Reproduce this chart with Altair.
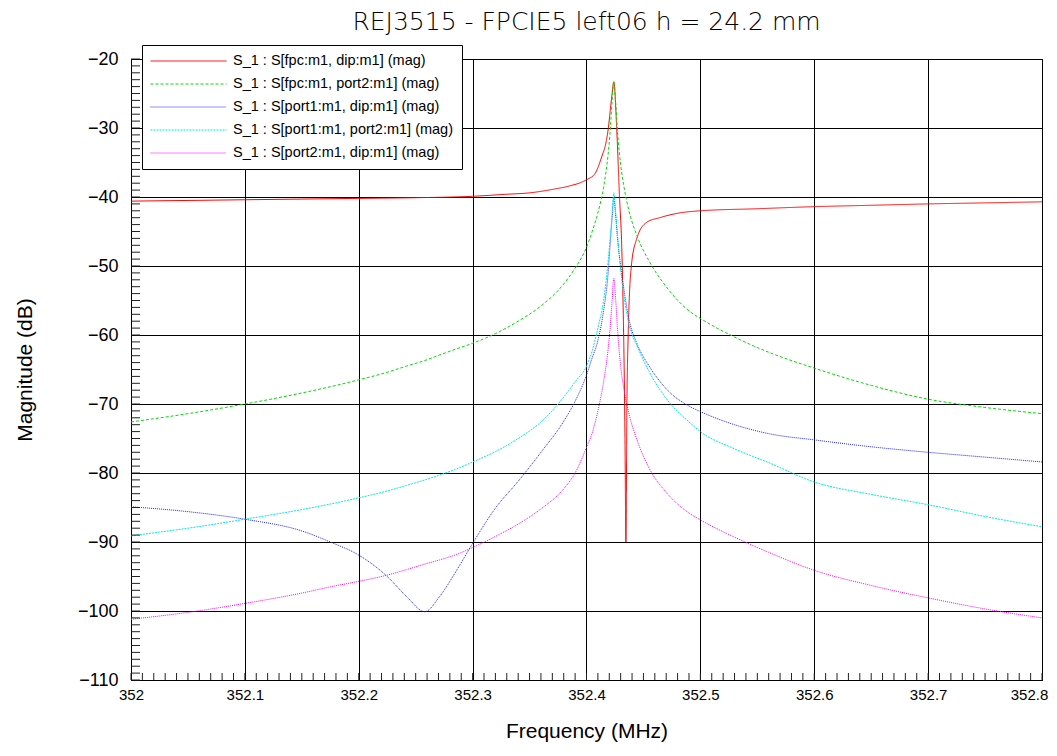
import altair as alt
import pandas as pd

# ---------------- data ----------------
SERIES = [
    "S_1 : S[fpc:m1, dip:m1] (mag)",
    "S_1 : S[fpc:m1, port2:m1] (mag)",
    "S_1 : S[port1:m1, dip:m1] (mag)",
    "S_1 : S[port1:m1, port2:m1] (mag)",
    "S_1 : S[port2:m1, dip:m1] (mag)",
]
COLORS = ["#ff0000", "#00dd00", "#2020ff", "#00e8f0", "#ff00ff"]
DASHES = [[1, 0], [3, 2], [1, 1], [2, 1], [1, 1]]

# shared frequency grid (MHz) for the four dotted/dashed traces
FREQ = [352.00, 352.05, 352.10, 352.15, 352.175, 352.20, 352.225, 352.242,
        352.258, 352.271, 352.286, 352.30, 352.32, 352.34, 352.36, 352.38,
        352.39, 352.40, 352.405, 352.41, 352.415, 352.419, 352.4205, 352.4225,
        352.424, 352.4255, 352.4275, 352.43, 352.433, 352.437, 352.445,
        352.455, 352.47, 352.49, 352.50, 352.53, 352.56, 352.60, 352.65,
        352.70, 352.75, 352.80]

FPC_PORT2 = [-72.6, -71.4, -70.0, -68.4, -67.5, -66.5, -65.4, -64.5, -63.7, -62.9,
             -62.0, -61.2, -59.8, -58.0, -55.8, -52.6, -50.3, -47.3, -45.0, -42.3,
             -38.6, -33.8, -31.1, -26.1, -23.2, -26.1, -31.1, -35.3, -38.6, -41.8,
             -45.9, -49.3, -53.0, -56.5, -57.6, -60.3, -62.5, -64.8, -67.3, -69.3,
             -70.5, -71.4]

PORT1_DIP = [-84.9, -85.6, -86.7, -88.4, -90.0, -91.9, -95.0, -97.9, -100.1, -97.9,
             -94.1, -90.2, -85.1, -81.2, -77.0, -72.5, -69.6, -65.8, -63.3, -60.8,
             -56.5, -51.0, -47.5, -43.0, -40.0, -42.5, -46.5, -50.0, -53.5, -57.5,
             -61.5, -64.5, -67.8, -70.3, -71.1, -73.0, -74.3, -75.2, -76.2, -77.0,
             -77.7, -78.4]

PORT1_PORT2 = [-89.1, -88.0, -86.7, -85.3, -84.5, -83.6, -82.6, -81.8, -81.0, -80.3,
               -79.4, -78.4, -76.9, -75.0, -72.6, -69.0, -66.8, -64.5, -62.3, -59.0,
               -55.0, -49.3, -46.5, -42.5, -39.4, -42.0, -46.0, -50.5, -54.5, -58.2,
               -61.8, -65.3, -69.2, -72.6, -74.0, -76.5, -78.5, -81.3, -83.1, -84.6,
               -86.3, -87.8]

PORT2_DIP = [-101.2, -100.2, -98.9, -97.4, -96.5, -95.7, -94.8, -94.0, -93.2, -92.6,
             -91.8, -90.8, -89.2, -87.4, -85.2, -82.3, -80.0, -76.3, -74.2, -71.0,
             -66.8, -62.0, -59.5, -55.0, -51.8, -54.5, -59.8, -64.5, -68.0, -71.2,
             -75.5, -79.3, -82.8, -85.8, -86.8, -89.3, -91.5, -94.1, -96.3, -98.1,
             -99.7, -101.0]

# the red trace has its own sample points (resonance + notch)
RED_FREQ = [352.00, 352.05, 352.10, 352.15, 352.20, 352.25, 352.30, 352.33, 352.35,
            352.37, 352.385, 352.395, 352.40, 352.4075, 352.4133, 352.4175, 352.4192,
            352.4210, 352.4225, 352.424, 352.4265, 352.4288, 352.4314, 352.4338,
            352.4346, 352.4355, 352.4366, 352.4394, 352.4438, 352.4526, 352.4643,
            352.4821, 352.50, 352.55, 352.60, 352.65, 352.70, 352.75, 352.80]
FPC_DIP = [-40.6, -40.5, -40.4, -40.3, -40.2, -40.1, -39.9, -39.6, -39.4, -38.9,
           -38.4, -37.9, -37.5, -36.6, -34.2, -31.8, -30.0, -27.2, -25.0, -23.3,
           -30.0, -39.3, -50.0, -75.0, -90.0, -70.0, -60.0, -50.0, -46.2, -43.7,
           -43.0, -42.3, -42.0, -41.7, -41.4, -41.2, -41.0, -40.85, -40.7]

X_TICKS = [352.0, 352.1, 352.2, 352.3, 352.4, 352.5, 352.6, 352.7, 352.8]
Y_TICKS = [-110, -100, -90, -80, -70, -60, -50, -40, -30, -20]
X_MINOR = [round(352.0 + i * 0.01, 2) for i in range(81)]
Y_MINOR = list(range(-110, -19))

TITLE = "REJ3515 - FPCIE5 left06 h = 24.2 mm"
X_TITLE = "Frequency (MHz)"
Y_TITLE = "Magnitude (dB)"

# ---------------- build table ----------------
rows = []
traces = [(SERIES[0], RED_FREQ, FPC_DIP),
          (SERIES[1], FREQ, FPC_PORT2),
          (SERIES[2], FREQ, PORT1_DIP),
          (SERIES[3], FREQ, PORT1_PORT2),
          (SERIES[4], FREQ, PORT2_DIP)]
for name, fl, vl in traces:
    for f, v in zip(fl, vl):
        rows.append({"f": f, "dB": v, "series": name})
df = pd.DataFrame(rows)

W, H = 911, 621
LABEL_FONT = "Liberation Sans, Arial, sans-serif"
TITLE_FONT = "DejaVu Sans, sans-serif"

xscale = alt.Scale(domain=[352.0, 352.8], nice=False, zero=False)
yscale = alt.Scale(domain=[-110, -20], nice=False, zero=False)

legend = alt.Legend(
    orient="none", legendX=11, legendY=-14,
    fillColor="white", strokeColor="black", padding=8,
    symbolType="stroke", symbolSize=5776, symbolStrokeWidth=1,
    clipHeight=16, rowPadding=7,
    labelFont=LABEL_FONT, labelFontSize=14.5, labelOffset=6,
    labelLimit=500, labelColor="black",
)

xaxis = alt.Axis(
    values=X_TICKS, format="~g", grid=True, ticks=False, labelFlush=False,
    labelFont=LABEL_FONT, labelFontSize=15, labelPadding=7,
    labelOffset={"condition": {"test": "datum.value >= 352.79", "value": -13}, "value": 0},
    title=X_TITLE, titleFont=LABEL_FONT, titleFontSize=21,
    titleFontWeight="normal", titleX=W / 2, titleY=57,
    titleBaseline="alphabetic")
yaxis = alt.Axis(
    values=Y_TICKS, grid=True, ticks=False, labelFlush=False,
    labelFont=LABEL_FONT, labelFontSize=18, labelPadding=13,
    title=Y_TITLE, titleFont=LABEL_FONT, titleFontSize=21,
    titleFontWeight="normal", titleX=-100, titleY=H / 2,
    titleBaseline="alphabetic")

lines = alt.Chart(df).mark_line(strokeWidth=1, interpolate="monotone").encode(
    x=alt.X("f:Q", scale=xscale, axis=xaxis, title=X_TITLE),
    y=alt.Y("dB:Q", scale=yscale, axis=yaxis, title=Y_TITLE),
    color=alt.Color("series:N", scale=alt.Scale(domain=SERIES, range=COLORS),
                    legend=legend, title=None),
    strokeDash=alt.StrokeDash("series:N", scale=alt.Scale(domain=SERIES, range=DASHES),
                              legend=legend, title=None),
)

ymin = alt.Chart(pd.DataFrame({"dB": Y_MINOR})).mark_rule(
    color="#222222", strokeWidth=1).encode(
    y=alt.Y("dB:Q", scale=yscale, axis=yaxis, title=Y_TITLE),
    x=alt.value(0), x2=alt.value(9))

xmin = alt.Chart(pd.DataFrame({"f": X_MINOR})).mark_rule(
    color="#222222", strokeWidth=1).encode(
    x=alt.X("f:Q", scale=xscale, axis=xaxis, title=X_TITLE),
    y=alt.value(H), y2=alt.value(H - 7))

chart = alt.layer(lines, ymin, xmin).properties(
    width=W, height=H,
    autosize=alt.AutoSizeParams(type="none"),
    padding={"left": 123, "top": 51, "right": 7, "bottom": 62},
    title=alt.TitleParams(TITLE, font=TITLE_FONT, fontSize=25, fontWeight=200,
                          anchor="middle", color="black", dy=-6),
    background="white",
).configure_view(stroke="black", strokeWidth=1).configure_axis(
    domainColor="black", gridColor="black", gridOpacity=1, gridWidth=1,
    labelColor="black", titleColor="black",
)

chart.save("out.html", embed_options={"renderer": "svg", "actions": False})
